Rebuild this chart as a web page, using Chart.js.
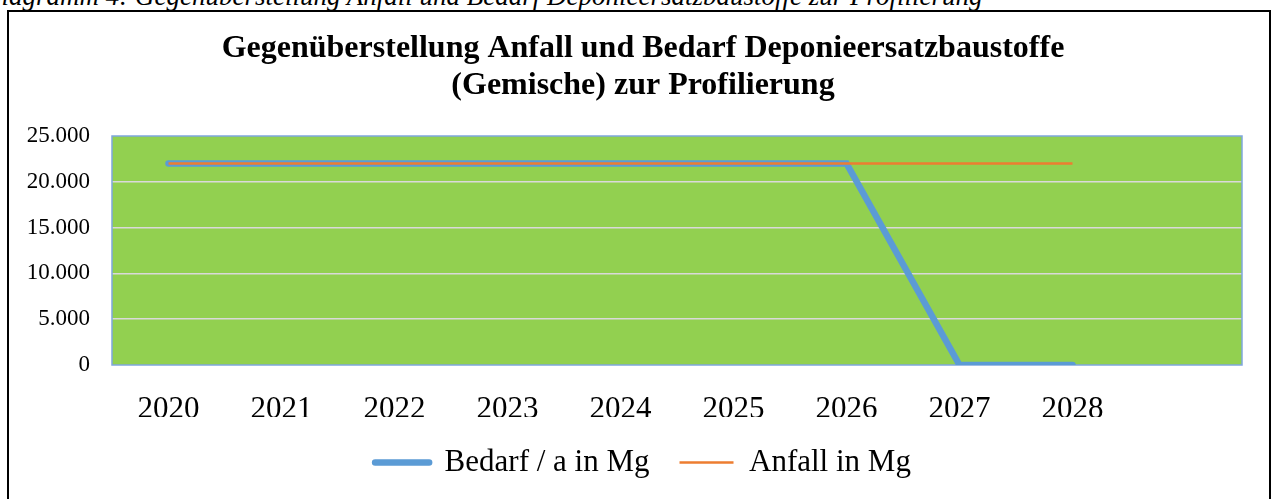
<!DOCTYPE html>
<html lang="de">
<head>
<meta charset="utf-8">
<title>Gegenüberstellung Anfall und Bedarf</title>
<script src="https://cdn.jsdelivr.net/npm/chart.js@4.4.1/dist/chart.umd.min.js"></script>
<style>
    html, body { margin: 0; padding: 0; background: #fff; overflow: hidden; }
    #wrap { position: relative; width: 1275px; height: 499px; }
    #myChart { position: absolute; left: 0; top: 0; }
    #caption {
        position: absolute; left: -18px; top: -19px; white-space: nowrap;
        font: italic 27px 'Liberation Serif', serif; color: #000;
    }
    #frame {
        position: absolute; left: 7px; top: 10px; width: 1260px; height: 510px;
        border: 2px solid #000; pointer-events: none;
    }
</style>
</head>
<body>
<div id="wrap">
    <div id="caption">Diagramm 4: Gegenüberstellung Anfall und Bedarf Deponieersatzbaustoffe zur Profilierung</div>
    <canvas id="myChart" width="1275" height="499"></canvas>
    <div id="frame"></div>
</div>
<script>
// Jahre (letzte Kategorie bleibt leer wie im Original)
const years = ['2020', '2021', '2022', '2023', '2024', '2025', '2026', '2027', '2028', ''];
// Bedarf / a in Mg
const bedarf = [22000, 22000, 22000, 22000, 22000, 22000, 22000, 0, 0];
// Anfall in Mg
const anfall = [22000, 22000, 22000, 22000, 22000, 22000, 22000, 22000, 22000];
const yTicks = [0, 5000, 10000, 15000, 20000, 25000];

const serif = "'Liberation Serif', 'Times New Roman', serif";

function fmt(v) {
    return String(v).replace(/\B(?=(\d{3})+(?!\d))/g, '.');
}

// gruene Zeichenflaeche mit blauem Rahmen
const plotArea = {
    id: 'plotArea',
    beforeDraw(chart) {
        const a = chart.chartArea;
        const ctx = chart.ctx;
        ctx.save();
        ctx.fillStyle = '#92D050';
        ctx.fillRect(a.left, a.top, a.right - a.left, a.bottom - a.top);
        ctx.restore();
    },
    beforeDatasetsDraw(chart) {
        const a = chart.chartArea;
        const ctx = chart.ctx;
        ctx.save();
        ctx.strokeStyle = '#7FA7DD';
        ctx.lineWidth = 1.5;
        ctx.strokeRect(a.left, a.top, a.right - a.left, a.bottom - a.top);
        ctx.restore();
    }
};

const ctx = document.getElementById('myChart');

new Chart(ctx, {
    type: 'line',
    data: {
        labels: years,
        datasets: [{
            label: 'Anfall in Mg',
            data: anfall,
            borderColor: '#ED7D31',
            borderWidth: 2.5,
            pointRadius: 0,
            order: 1
        }, {
            label: 'Bedarf / a in Mg',
            data: bedarf,
            borderColor: '#5B9BD5',
            borderWidth: 6.5,
            borderCapStyle: 'round',
            borderJoinStyle: 'miter',
            pointRadius: 0,
            order: 2
        }]
    },
    options: {
        responsive: false,
        animation: false,
        devicePixelRatio: 1,
        layout: {
            padding: {left: 11, right: 0, top: 0, bottom: 11}
        },
        scales: {
            x: {
                offset: true,
                grid: {display: false},
                border: {display: false},
                ticks: {
                    color: '#000',
                    font: {family: serif, size: 31},
                    padding: 18,
                    maxRotation: 0,
                    autoSkip: false
                },
                afterFit: function (scale) {
                    scale.height = 52;
                }
            },
            y: {
                min: 0,
                max: 25000,
                afterBuildTicks: function (scale) {
                    scale.ticks = yTicks.map(v => ({value: v}));
                },
                grid: {
                    drawTicks: false,
                    lineWidth: 1.5,
                    color: c => (c.tick && (c.tick.value === 0 || c.tick.value === 25000)) ? 'rgba(0,0,0,0)' : '#D9D9D9'
                },
                border: {display: false},
                ticks: {
                    color: '#000',
                    font: {family: serif, size: 23},
                    padding: 22,
                    callback: v => fmt(v)
                },
                afterFit: function (scale) {
                    scale.width = 101;
                }
            },
            // leerer Rand rechts neben der Zeichenflaeche
            y2: {
                position: 'right',
                grid: {display: false},
                border: {display: false},
                ticks: {display: false},
                afterFit: function (scale) {
                    scale.width = 33;
                }
            }
        },
        plugins: {
            title: {
                display: true,
                text: ['Gegenüberstellung Anfall und Bedarf Deponieersatzbaustoffe', '(Gemische) zur Profilierung'],
                color: '#000',
                font: {family: serif, size: 32, weight: 'bold', lineHeight: 1.15},
                padding: {top: 30.8, bottom: 31.6}
            },
            legend: {
                position: 'bottom',
                labels: {
                    usePointStyle: true,
                    pointStyleWidth: 54,
                    padding: 30,
                    color: '#000',
                    font: {family: serif, size: 31},
                    generateLabels: function (chart) {
                        const ds = chart.data.datasets;
                        return [1, 0].map(i => ({
                            text: ds[i].label,
                            datasetIndex: i,
                            fillStyle: ds[i].borderColor,
                            strokeStyle: ds[i].borderColor,
                            lineWidth: ds[i].borderWidth,
                            lineCap: ds[i].borderCapStyle || 'butt',
                            pointStyle: 'line',
                            hidden: !chart.isDatasetVisible(i),
                            fontColor: '#000'
                        }));
                    }
                }
            },
            tooltip: {enabled: false}
        }
    },
    plugins: [plotArea]
});
</script>
</body>
</html>
